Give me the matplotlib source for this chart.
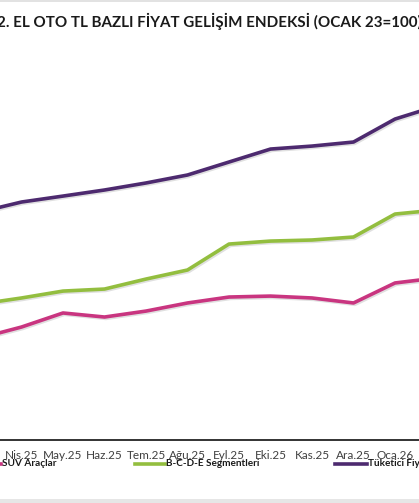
import matplotlib
matplotlib.use("Agg")
import matplotlib.pyplot as plt
from matplotlib.lines import Line2D
from matplotlib.patches import Rectangle
import matplotlib.patheffects as pe

W, H = 419, 503

months = ["Mar.25", "Nis.25", "May.25", "Haz.25", "Tem.25", "Ağu.25",
          "Eyl.25", "Eki.25", "Kas.25", "Ara.25", "Oca.26", "Şub.26"]
tufe = [262.0, 270.4, 275.4, 280.5, 286.4, 293.1, 304.0, 314.9, 317.4, 320.8, 340.1, 351.0]
bcde = [184.7, 189.8, 195.6, 197.3, 205.7, 213.3, 235.1, 237.6, 238.5, 241.0, 260.3, 263.7]
suv = [156.2, 165.4, 177.2, 173.8, 178.8, 185.6, 190.6, 191.4, 189.8, 185.6, 202.4, 206.6]

labels = ["SUV Araçlar", "B-C-D-E Segmentleri", "Tüketici Fiyat Endeksi"]
colors = ["#c93580", "#93be3f", "#4d2a6f"]
title = "2. EL OTO TL BAZLI FİYAT GELİŞİM ENDEKSİ (OCAK 23=100)"

plt.rcParams["font.family"] = ["Lato", "DejaVu Sans"]


def fx(px):
    return px / W


def fy(py):
    return 1 - py / H


fig = plt.figure(figsize=(W / 100, H / 100), dpi=100)
ax = fig.add_axes([0, fy(440), 1, (440 - 40) / H])

x = list(range(len(months)))
shadow = [pe.SimpleLineShadow(offset=(1, -1), alpha=0.12), pe.Normal()]
for vals, c in zip([suv, bcde, tufe], colors):
    ax.plot(x, vals, color=c, lw=2.6, solid_joinstyle="round",
            solid_capstyle="round", path_effects=shadow)

ax.set_xlim((0 - 21.5) / 41.5 + 1, (W - 21.5) / 41.5 + 1)
ax.set_ylim(70.5, 406.5)
# only the months that fall inside the visible window get a label
ax.set_xticks(x[1:-1])
ax.set_xticklabels(months[1:-1], fontsize=8.5, color="#404040")
ax.tick_params(axis="x", length=0, pad=7)
ax.set_yticks([])
for s in ["top", "left", "right"]:
    ax.spines[s].set_visible(False)
ax.spines["bottom"].set_color("#111111")
ax.spines["bottom"].set_linewidth(1.2)

fig.text(0.5, fy(21), title, ha="center", va="center", fontsize=10.9,
         fontweight="bold", color="#1a1a1a")

# legend, drawn by hand to match the cropped layout
legend_pos = [(-30, 2), (135, 166), (335, 368)]
for (x0, tx), lab, c in zip(legend_pos, labels, colors):
    fig.add_artist(Line2D([fx(x0), fx(tx - 1)], [fy(464), fy(464)],
                          color=c, lw=2.6))
    fig.text(fx(tx), fy(464), lab, ha="left", va="center", fontsize=7.2,
             fontweight="bold", color="#1a1a1a")

# light frame strips at top and bottom
fig.add_artist(Rectangle((0, fy(2)), 1, 2 / H, transform=fig.transFigure,
                         color="#e2e2e2", lw=0))
fig.add_artist(Rectangle((0, 0), 1, 4 / H, transform=fig.transFigure,
                         color="#e6e6e6", lw=0))

fig.savefig("out.png", dpi=100)
